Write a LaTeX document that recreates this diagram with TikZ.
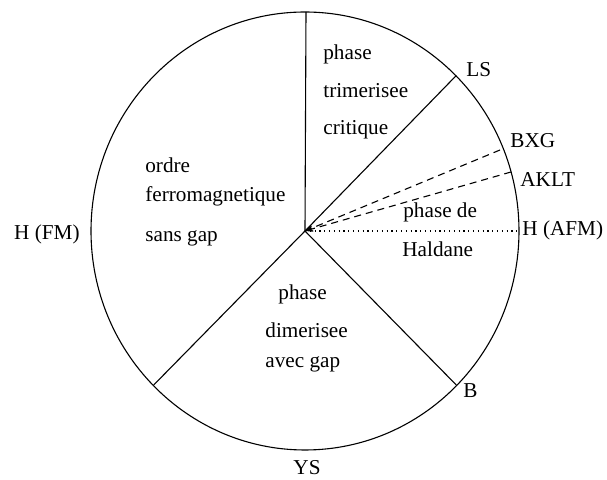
\documentclass[tikz,border=0pt]{standalone}
\usepackage{fontspec}
\setmainfont{Liberation Serif}
\usetikzlibrary{arrows.meta}
\begin{document}
\begin{tikzpicture}[x=0.5pt,y=-0.5pt,
  lbl/.style={inner sep=0pt,font=\fontsize{10.6}{13}\selectfont},
  bound/.style={line width=0.55pt},
  dashline/.style={line width=0.55pt,dash pattern=on 3.5pt off 2.5pt},
  dotline/.style={line width=0.55pt,dash pattern=on 0.6pt off 1.8pt}]
\useasboundingbox (0,0) rectangle (607,480);
% circle
\coordinate (O) at (305,231);
\draw[bound] (O) ellipse [x radius=214, y radius=219];
% boundary points
\coordinate (top) at (306,12);
\coordinate (ls) at (456.3,75.5);
\coordinate (b) at (456.3,385);
\coordinate (ll) at (153.7,385);
\coordinate (bxg) at (500,150);
\coordinate (aklt) at (511,172);
\coordinate (afm) at (519,231);
% phase boundaries
\draw[bound] (O) -- (top);
\draw[bound] (O) -- (ls);
\draw[bound] (O) -- (b);
\draw[bound] (O) -- (ll);
\draw[dashline,-{Stealth[length=4pt,width=3pt]}] (bxg) -- (O);
\draw[dashline,-{Stealth[length=4pt,width=3pt]}] (aklt) -- (O);
\draw[dotline] (O) -- (afm);
% point labels
\node[lbl,anchor=mid west] (tls) at (466,72) {LS};
\node[lbl,anchor=mid west] (tbxg) at (510,143) {BXG};
\node[lbl,anchor=mid west] (taklt) at (520,182) {AKLT};
\node[lbl,anchor=mid west] (tafm) at (522,231) {H (AFM)};
\node[lbl,anchor=mid west] (tb) at (463,393) {B};
\node[lbl,anchor=mid] (tys) at (307,470) {YS};
\node[lbl,anchor=mid east] (tfm) at (80,235) {H (FM)};
% phase labels
\node[lbl,anchor=mid west] (p1) at (323,55) {phase};
\node[lbl,anchor=mid west] (p2) at (323,93) {trimerisee};
\node[lbl,anchor=mid west] (p3) at (323,130) {critique};
\node[lbl,anchor=mid west] (f1) at (145,168) {ordre};
\node[lbl,anchor=mid west] (f2) at (145,197) {ferromagnetique};
\node[lbl,anchor=mid west] (f3) at (145,237) {sans gap};
\node[lbl,anchor=mid west] (d1) at (278,295) {phase};
\node[lbl,anchor=mid west] (d2) at (265,333) {dimerisee};
\node[lbl,anchor=mid west] (d3) at (265,363) {avec gap};
\node[lbl,anchor=mid west] (h1) at (403,213) {phase de};
\node[lbl,anchor=mid west] (h2) at (402,252) {Haldane};
\end{tikzpicture}
\end{document}
